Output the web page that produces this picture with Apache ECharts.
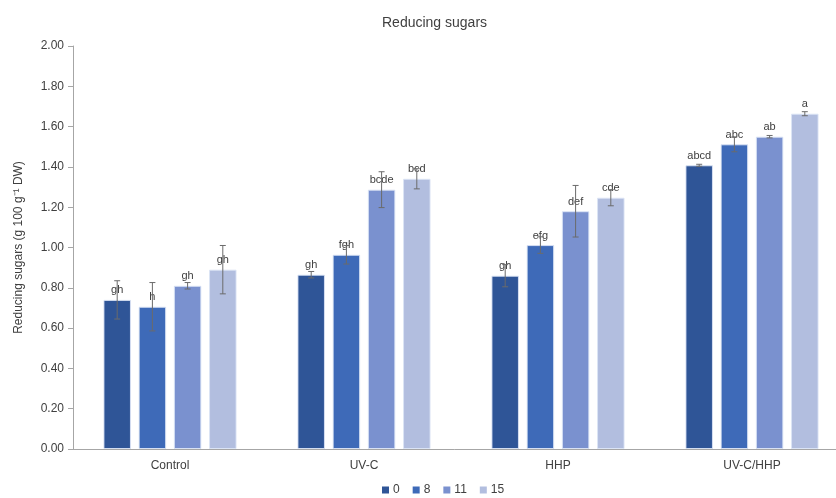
<!DOCTYPE html>
<html>
<head>
<meta charset="utf-8">
<script src="https://cdn.jsdelivr.net/npm/echarts@6/dist/echarts.min.js"></script>
<style>html,body{margin:0;padding:0;background:#fff}#c{width:836px;height:498px}</style>
</head>
<body>
<div id="c"></div>
<script>
var categories = ['Control', 'UV-C', 'HHP', 'UV-C/HHP'];
var days = ['0', '8', '11', '15'];
var yTicks = [0, 0.2, 0.4, 0.6, 0.8, 1.0, 1.2, 1.4, 1.6, 1.8, 2.0];

var day0 = [0.74, 0.865, 0.86, 1.408];
var day8 = [0.706, 0.964, 1.012, 1.512];
var day11 = [0.81, 1.287, 1.18, 1.55];
var day15 = [0.89, 1.341, 1.247, 1.664];

var err0 = [0.095, 0.016, 0.055, 0.005];
var err8 = [0.12, 0.046, 0.041, 0.037];
var err11 = [0.016, 0.089, 0.128, 0.006];
var err15 = [0.12, 0.05, 0.04, 0.01];

var let0 = ['gh', 'gh', 'gh', 'abcd'];
var let8 = ['h', 'fgh', 'efg', 'abc'];
var let11 = ['gh', 'bcde', 'def', 'ab'];
var let15 = ['gh', 'bcd', 'cde', 'a'];

var values = [day0, day8, day11, day15];
var errors = [err0, err8, err11, err15];
var letters = [let0, let8, let11, let15];
var colors = ['#2F5597', '#3E6AB8', '#7A91CF', '#B2BEDF'];

var FONT = '"Liberation Sans", Arial, sans-serif';
var BAR_W = 27.5;
var GAP_RATIO = 0.28;

var series = [];
values.forEach(function (vals, i) {
  series.push({
    name: days[i],
    type: 'bar',
    data: vals,
    barWidth: BAR_W,
    barGap: (GAP_RATIO * 100) + '%',
    itemStyle: { color: colors[i], borderColor: 'rgba(220,228,245,0.9)', borderWidth: 1 },
    label: {
      show: true,
      position: 'top',
      distance: 4,
      fontFamily: FONT,
      fontSize: 11,
      color: '#404040',
      formatter: (function (idx) { return function (p) { return letters[idx][p.dataIndex]; }; })(i)
    },
    z: 2
  });
});

values.forEach(function (vals, i) {
  series.push({
    type: 'custom',
    name: 'err' + i,
    z: 5,
    silent: true,
    data: vals.map(function (v, k) { return [k, v, errors[i][k]]; }),
    renderItem: function (params, api) {
      var k = api.value(0), v = api.value(1), e = api.value(2);
      var off = (i - 1.5) * BAR_W * (1 + GAP_RATIO);
      var top = api.coord([k, v + e]);
      var bot = api.coord([k, v - e]);
      var x = top[0] + off;
      var cw = 3;
      var st = { stroke: '#6b6b6b', lineWidth: 1 };
      return {
        type: 'group',
        children: [
          { type: 'line', shape: { x1: x, y1: top[1], x2: x, y2: bot[1] }, style: st },
          { type: 'line', shape: { x1: x - cw, y1: top[1], x2: x + cw, y2: top[1] }, style: st },
          { type: 'line', shape: { x1: x - cw, y1: bot[1], x2: x + cw, y2: bot[1] }, style: st }
        ]
      };
    }
  });
});

var chart = echarts.init(document.getElementById('c'), null, { renderer: 'canvas' });
chart.setOption({
  animation: false,
  backgroundColor: '#fff',
  title: {
    text: 'Reducing sugars',
    left: 377,
    top: 11,
    textStyle: { fontFamily: FONT, fontSize: 14, fontWeight: 'normal', color: '#404040' }
  },
  legend: {
    data: days,
    top: 479,
    left: 377,
    itemWidth: 7,
    itemHeight: 7,
    itemGap: 13,
    icon: 'rect',
    itemStyle: { borderWidth: 0 },
    textStyle: { fontFamily: FONT, fontSize: 12, color: '#404040', padding: [0, 0, 0, -1] }
  },
  grid: { left: 73, top: 46, width: 776, height: 403, containLabel: false, outerBoundsMode: 'none' },
  xAxis: {
    type: 'category',
    data: categories,
    axisLine: { lineStyle: { color: '#a6a6a6', width: 1 } },
    axisTick: { show: false },
    axisLabel: { fontFamily: FONT, fontSize: 12, color: '#404040', margin: 11 }
  },
  yAxis: {
    type: 'value',
    min: yTicks[0],
    max: yTicks[yTicks.length - 1],
    interval: 0.2,
    name: 'Reducing sugars (g 100 g\u207B\u00B9 DW)',
    nameLocation: 'middle',
    nameGap: 48,
    nameTextStyle: { fontFamily: FONT, fontSize: 12, color: '#404040' },
    axisLine: { show: true, lineStyle: { color: '#a6a6a6' } },
    axisTick: { show: true, inside: false, length: 5, lineStyle: { color: '#a6a6a6' } },
    splitLine: { show: false },
    axisLabel: {
      fontFamily: FONT, fontSize: 12, color: '#404040', margin: 9,
      formatter: function (v) { return v.toFixed(2); }
    }
  },
  series: series
});
</script>
</body>
</html>
